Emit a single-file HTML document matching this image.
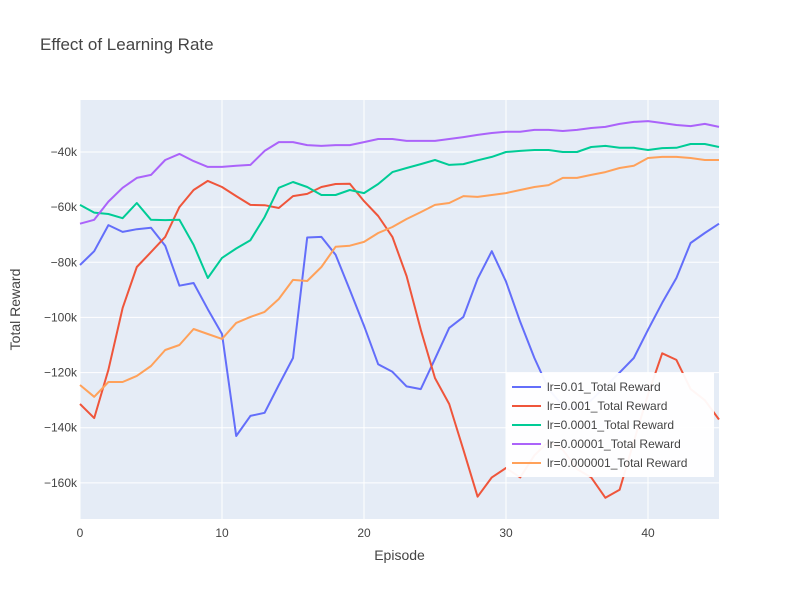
<!DOCTYPE html>
<html><head><meta charset="utf-8"><style>
body{margin:0;background:#fff;font-family:"Liberation Sans",Arial,sans-serif}
svg text{font-family:"Liberation Sans",Arial,sans-serif}
</style></head><body>
<svg id="chart" width="800" height="600">
<rect x="0" y="0" width="800" height="600" fill="#fff"/>
<text x="40" y="50" font-size="17" fill="#444">Effect of Learning Rate</text>
<rect x="80" y="100" width="639" height="419" fill="#E5ECF6"/>
<g id="grid"></g><g id="lines"></g><g id="axes"></g>
<text x="399.5" y="560" font-size="14" fill="#444" text-anchor="middle">Episode</text>
<text x="20" y="309.5" font-size="14" fill="#444" text-anchor="middle" transform="rotate(-90 20 309.5)">Total Reward</text>
<g id="legend"></g>
</svg>
<script>
const seriesNames=["lr=0.01_Total Reward","lr=0.001_Total Reward","lr=0.0001_Total Reward","lr=0.00001_Total Reward","lr=0.000001_Total Reward"];
const seriesColors=["#636EFA","#EF553B","#00CC96","#AB63FA","#FFA15A"];
const xTicks=[0,10,20,30,40];
const yTicks=[-40000,-60000,-80000,-100000,-120000,-140000,-160000];
const yTickLabels=["−40k","−60k","−80k","−100k","−120k","−140k","−160k"];
const s1=[-81,-76,-66.5,-69,-68,-67.5,-74,-88.5,-87.5,-97,-106,-143,-135.7,-134.6,-124.5,-114.7,-71,-70.8,-77.3,-90,-103,-117,-119.7,-125,-126,-115,-103.8,-99.8,-86,-76,-87,-101.6,-114.7,-126,-132,-133,-130,-125,-120,-114.7,-104.5,-94.7,-85.7,-73,-69.4,-66];
const s2=[-131.4,-136.5,-119,-96.6,-81.7,-76.3,-70.8,-60,-53.8,-50.5,-52.7,-56,-59.2,-59.3,-60.3,-56,-55.2,-52.7,-51.6,-51.5,-57.8,-63.2,-70.8,-85,-104.5,-122,-131.4,-148,-165,-158,-154.6,-158,-150,-145,-148,-155,-158,-165.4,-162.5,-145,-128,-113,-115.4,-126,-130,-137];
const s3=[-59.2,-62,-62.5,-64,-58.5,-64.6,-64.7,-64.6,-73.7,-85.7,-78.4,-75,-72,-63.6,-53,-50.9,-52.7,-55.6,-55.6,-53.8,-54.9,-51.6,-47.3,-45.8,-44.4,-42.9,-44.7,-44.4,-43,-41.8,-40,-39.6,-39.3,-39.3,-40,-40,-38.2,-37.8,-38.5,-38.5,-39.3,-38.6,-38.5,-37.1,-37.1,-38.2];
const s4=[-66,-64.6,-58,-53,-49.4,-48.3,-42.9,-40.7,-43.3,-45.4,-45.4,-45,-44.7,-39.6,-36.4,-36.4,-37.5,-37.8,-37.5,-37.5,-36.4,-35.3,-35.3,-36,-36,-36,-35.3,-34.6,-33.8,-33.1,-32.7,-32.7,-32,-32,-32.4,-32,-31.3,-30.9,-29.8,-29.1,-28.8,-29.5,-30.2,-30.6,-29.8,-30.9];
const s5=[-124.5,-128.8,-123.4,-123.4,-121.2,-117.6,-111.8,-110,-104.2,-106,-107.8,-102,-99.8,-98,-93.3,-86.4,-86.8,-81.7,-74.4,-74,-72.6,-69.4,-67.2,-64.3,-61.8,-59.2,-58.5,-56,-56.3,-55.6,-54.9,-53.8,-52.7,-52,-49.4,-49.4,-48.3,-47.3,-45.8,-45,-42.2,-41.8,-41.8,-42.2,-42.9,-42.9];
const allSeries=[s1,s2,s3,s4,s5];
const NS="http://www.w3.org/2000/svg";
const X0=80,X1=719,Y0=100,Y1=519,xMin=0,xMax=45,yMin=-173100,yMax=-21150;
const xs=v=>X0+(v-xMin)/(xMax-xMin)*(X1-X0);
const ys=v=>Y1-(v-yMin)/(yMax-yMin)*(Y1-Y0);
function mk(t,a,p){const e=document.createElementNS(NS,t);for(const k in a)e.setAttribute(k,a[k]);p.appendChild(e);return e;}
const grid=document.getElementById('grid'),axes=document.getElementById('axes'),lines=document.getElementById('lines'),leg=document.getElementById('legend');
xTicks.forEach(t=>{
  const l=mk('line',{x1:xs(t),x2:xs(t),y1:Y0,y2:Y1,stroke:'#fff','stroke-width':1},grid);
  
  
  const tx=mk('text',{x:xs(t),y:Y1+18,'font-size':12,fill:'#444','text-anchor':'middle'},axes);
  tx.textContent=t;
  
  
});
yTicks.forEach((t,i)=>{
  const l=mk('line',{x1:X0,x2:X1,y1:ys(t),y2:ys(t),stroke:'#fff','stroke-width':1},grid);
  
  
  const tx=mk('text',{x:X0-3,y:ys(t)+4,'font-size':12,fill:'#444','text-anchor':'end'},axes);
  tx.textContent=yTickLabels[i];
  
  
});
allSeries.forEach((s,i)=>{
  const d=s.map((v,j)=>(j?'L':'M')+xs(j).toFixed(1)+','+ys(v*1000).toFixed(1)).join('');
  const p=mk('path',{d:d,fill:'none',stroke:seriesColors[i],'stroke-width':2,'stroke-linejoin':'round'},lines);
  
  
});
const bg=mk('rect',{x:506,y:373,width:208,height:104,fill:'#fff','fill-opacity':0.95},leg);


seriesNames.forEach((n,i)=>{
  const y=387+i*19;
  const g=mk('g',{},leg);
  
  
  mk('line',{x1:512,x2:541,y1:y,y2:y,stroke:seriesColors[i],'stroke-width':2},g);
  const t=mk('text',{x:547,y:y+4,'font-size':12,fill:'#444'},g);
  t.textContent=n;
});
</script>
</body></html>
